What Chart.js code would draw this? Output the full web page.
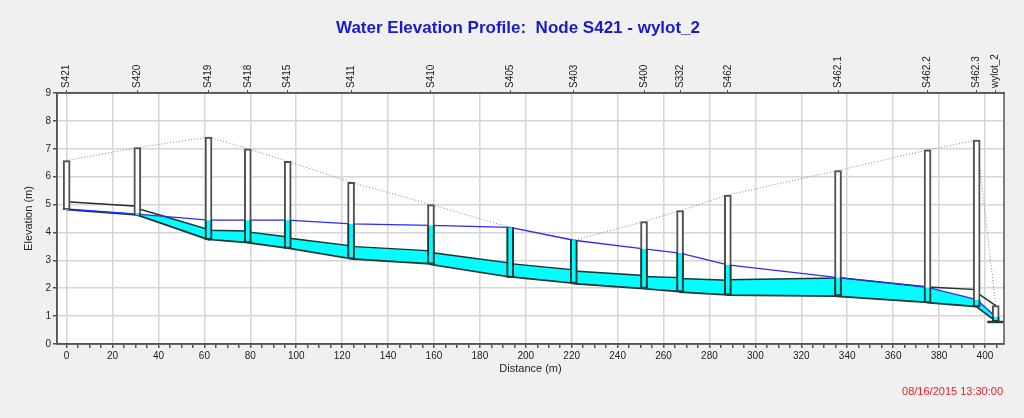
<!DOCTYPE html>
<html>
<head>
<meta charset="utf-8">
<title>Water Elevation Profile</title>
<script src="https://cdn.jsdelivr.net/npm/chart.js@4.4.1/dist/chart.umd.min.js"></script>
<style>
  html, body { margin: 0; padding: 0; background: #f0f0f0; }
  #wrap { width: 1024px; height: 418px; }
</style>
</head>
<body>
<div id="wrap"><canvas id="profile" width="1024" height="418"></canvas></div>
<script>
// nodes along the profile
const nodeNames = ["S421", "S420", "S419", "S418", "S415", "S411", "S410", "S405", "S403", "S400", "S332", "S462", "S462.1", "S462.2", "S462.3", "wylot_2"];
const nodeDist = [0, 30.8, 61.8, 78.9, 96.3, 123.9, 158.7, 193.2, 220.9, 251.5, 267.2, 288, 336, 375, 396.4, 404.7];
const nodeInvert = [4.82, 4.62, 3.74, 3.63, 3.43, 3.05, 2.86, 2.39, 2.17, 1.99, 1.87, 1.76, 1.72, 1.48, 1.33, 0.80];
const nodeRim = [6.58, 7.04, 7.42, 7.00, 6.55, 5.80, 5.00, 4.18, 3.72, 4.39, 4.78, 5.34, 6.22, 6.96, 7.31, 1.38];
const nodeWater = [4.84, 4.66, 4.44, 4.44, 4.44, 4.31, 4.25, 4.18, 3.72, 3.41, 3.26, 2.84, 2.38, 2.03, 1.59, 0.98];

// conduits (upstream/downstream ends, same distance used twice at a node)
const linkDist = [0, 30.8, 30.8, 42, 61.8, 61.8, 78.9, 78.9, 96.3, 96.3, 123.9, 123.9, 158.7, 158.7, 193.2, 193.2, 220.9, 220.9, 251.5, 251.5, 267.2, 267.2, 288, 288, 336, 336, 375, 375, 396.4, 396.4, 404.7];
const linkBottom = [4.82, 4.63, 4.62, 4.31, 3.74, 3.75, 3.64, 3.63, 3.44, 3.44, 3.06, 3.05, 2.87, 2.85, 2.40, 2.41, 2.18, 2.16, 1.99, 1.98, 1.88, 1.86, 1.76, 1.75, 1.72, 1.71, 1.49, 1.48, 1.34, 1.33, 0.82];
const linkTop = [5.10, 4.94, 4.86, 4.59, 4.10, 4.08, 4.05, 4.02, 3.84, 3.80, 3.52, 3.50, 3.34, 3.28, 2.90, 2.88, 2.66, 2.62, 2.46, 2.42, 2.38, 2.35, 2.29, 2.30, 2.37, 2.38, 2.05, 2.04, 1.95, 1.84, 1.38];
const linkWater = [4.84, 4.68, 4.66, 4.58, 4.10, 4.08, 4.05, 4.02, 3.84, 3.80, 3.52, 3.50, 3.34, 3.28, 2.90, 2.88, 2.66, 2.62, 2.46, 2.42, 2.38, 2.35, 2.29, 2.30, 2.37, 2.38, 2.05, 2.02, 1.58, 1.58, 0.98];

const outfallDist = [401, 408];
const outfallLevel = [0.79, 0.79];

const distanceTicks = [0, 20, 40, 60, 80, 100, 120, 140, 160, 180, 200, 220, 240, 260, 280, 300, 320, 340, 360, 380, 400];
const elevationTicks = [0, 1, 2, 3, 4, 5, 6, 7, 8, 9];

const titleText = "Water Elevation Profile:  Node S421 - wylot_2";
const stampText = "08/16/2015 13:30:00";

const FONT = "'Liberation Sans', Arial, sans-serif";
const AXIS = "#555";
const GRID = "#d6d6d6";

function pts(xs, ys) {
  return xs.map((x, i) => ({ x: x, y: ys[i] }));
}

const extras = {
  id: "extras",
  beforeDraw(chart) {
    const { ctx, chartArea: a } = chart;
    ctx.save();
    ctx.fillStyle = "#ffffff";
    ctx.fillRect(a.left, a.top, a.width, a.height);
    ctx.restore();
  },
  afterDraw(chart) {
    const { ctx, chartArea: a } = chart;
    const xs = chart.scales.x;
    ctx.save();
    ctx.strokeStyle = AXIS;
    ctx.lineWidth = 1.5;
    ctx.strokeRect(a.left, a.top, a.width, a.height);

    // node names, rotated, above the plot
    ctx.fillStyle = "#222";
    ctx.font = "10px " + FONT;
    ctx.textAlign = "left";
    ctx.textBaseline = "middle";
    nodeNames.forEach((name, i) => {
      ctx.save();
      ctx.translate(xs.getPixelForValue(nodeDist[i]), a.top - 5);
      ctx.rotate(-Math.PI / 2);
      ctx.fillText(name, 0, 0);
      ctx.restore();
    });

    ctx.fillStyle = "#1a1acc";
    ctx.font = "bold 17px " + FONT;
    ctx.textAlign = "center";
    ctx.fillText(titleText, 518, 28);
    ctx.fillStyle = "#e8202a";
    ctx.font = "11px " + FONT;
    ctx.textAlign = "right";
    ctx.fillText(stampText, 1003, 392);
    ctx.restore();
  }
};

new Chart(document.getElementById("profile"), {
  type: "bar",
  data: {
    datasets: [
      {
        type: "bar",
        data: nodeDist.map((x, i) => ({ x: x, y: [nodeInvert[i], nodeWater[i]] })),
        backgroundColor: "#00ffff",
        borderColor: "#1e3b3b",
        borderWidth: { left: 2, right: 2, bottom: 2, top: 0 },
        borderSkipped: false,
        barThickness: 7,
        grouped: false,
        order: 0
      },
      {
        type: "bar",
        data: nodeDist.map((x, i) => ({ x: x, y: [nodeInvert[i], nodeRim[i]] })),
        backgroundColor: "#ffffff",
        borderColor: "#505050",
        borderWidth: 2,
        borderSkipped: false,
        barThickness: 7,
        grouped: false,
        order: 1
      },
      {
        type: "line",
        data: pts(nodeDist, nodeWater),
        borderColor: "#2b2bff",
        borderWidth: 1.3,
        pointRadius: 0,
        fill: false,
        order: 2
      },
      {
        type: "line",
        data: pts(linkDist, linkTop),
        borderColor: "#1e3434",
        borderWidth: 1.5,
        pointRadius: 0,
        fill: false,
        order: 3
      },
      {
        type: "line",
        data: pts(linkDist, linkBottom),
        borderColor: "#1e3434",
        borderWidth: 1.8,
        pointRadius: 0,
        fill: false,
        order: 3
      },
      {
        type: "line",
        data: pts(linkDist, linkWater),
        borderWidth: 0,
        borderColor: "rgba(0,0,0,0)",
        pointRadius: 0,
        fill: { target: 4, above: "#00ffff", below: "#00ffff" },
        order: 5
      },
      {
        type: "line",
        data: pts(nodeDist, nodeRim),
        borderColor: "#8a8a8a",
        borderWidth: 1,
        borderDash: [1, 2],
        pointRadius: 0,
        fill: false,
        order: 6
      },
      {
        type: "line",
        data: pts(outfallDist, outfallLevel),
        borderColor: "#2a3a3a",
        borderWidth: 2.5,
        pointRadius: 0,
        fill: false,
        order: -1
      }
    ]
  },
  options: {
    responsive: false,
    animation: false,
    events: [],
    layout: { padding: { top: 41, right: 20, bottom: 42, left: 0 } },
    plugins: {
      legend: { display: false },
      title: { display: false },
      tooltip: { enabled: false }
    },
    scales: {
      x: {
        type: "linear",
        position: "bottom",
        min: -4.2,
        max: 408.3,
        offset: false,
        afterBuildTicks(axis) {
          const t = [];
          for (let v = 0; v <= 405; v += 5) t.push({ value: v });
          axis.ticks = t;
        },
        afterFit(axis) { axis.height = 32; },
        ticks: {
          autoSkip: false,
          maxRotation: 0,
          padding: 2,
          color: "#222",
          font: { family: FONT, size: 10 },
          callback: (v) => (distanceTicks.includes(v) ? String(v) : "")
        },
        grid: {
          offset: false,
          color: (c) => (c.tick && distanceTicks.includes(c.tick.value) ? GRID : "rgba(0,0,0,0)"),
          tickColor: AXIS,
          tickLength: 4,
          lineWidth: 1.5
        },
        border: { color: AXIS, width: 1.5 },
        title: {
          display: true,
          text: "Distance (m)",
          color: "#222",
          font: { family: FONT, size: 11 },
          padding: { top: 0, bottom: 0 }
        }
      },
      x2: {
        type: "linear",
        position: "top",
        min: -4.2,
        max: 408.3,
        offset: false,
        afterBuildTicks(axis) {
          axis.ticks = nodeDist.map((v) => ({ value: v }));
        },
        afterFit(axis) { axis.height = 52; },
        ticks: { display: false },
        grid: {
          offset: false,
          drawOnChartArea: false,
          tickColor: AXIS,
          tickLength: 3
        },
        border: { color: AXIS, width: 1.5 }
      },
      y: {
        type: "linear",
        min: 0,
        max: 9,
        afterBuildTicks(axis) {
          axis.ticks = elevationTicks.map((v) => ({ value: v }));
        },
        afterFit(axis) { axis.width = 57; },
        ticks: {
          padding: 2,
          color: "#222",
          font: { family: FONT, size: 10 }
        },
        grid: {
          color: GRID,
          tickColor: AXIS,
          tickLength: 4,
          lineWidth: 1.5
        },
        border: { color: AXIS, width: 1.5 },
        title: {
          display: true,
          text: "Elevation (m)",
          color: "#222",
          font: { family: FONT, size: 11 },
          padding: { top: 22, bottom: 0 }
        }
      }
    }
  },
  plugins: [extras]
});
</script>
</body>
</html>
